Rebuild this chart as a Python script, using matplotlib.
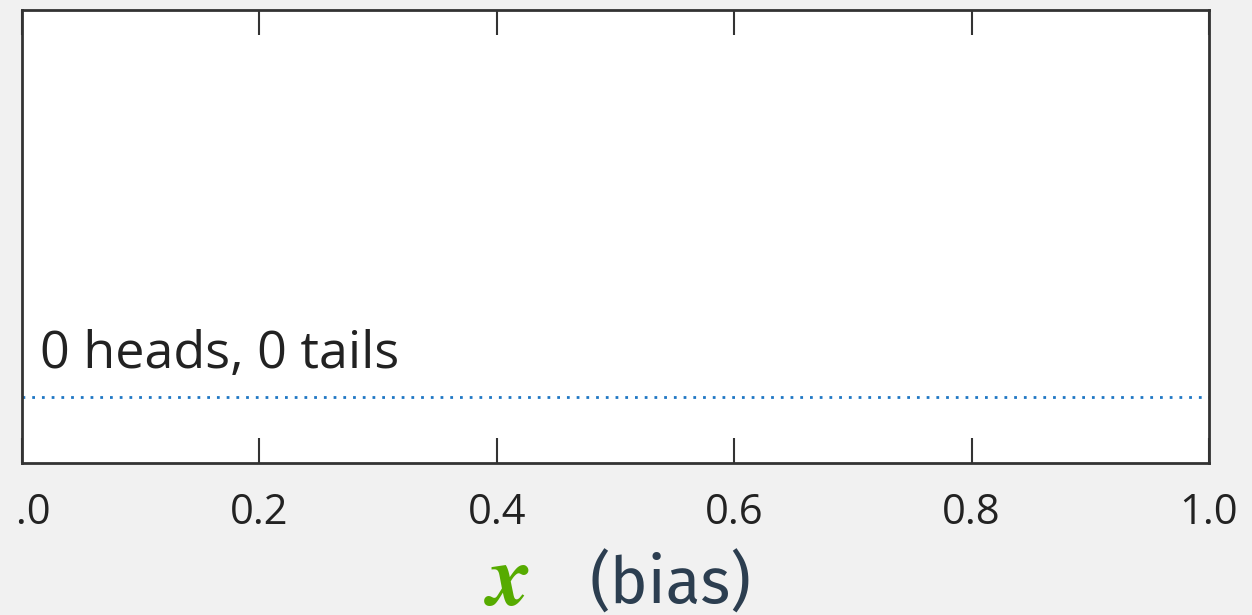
"""Prior over coin bias: uniform density before any flips."""

import matplotlib

matplotlib.use("Agg")
import matplotlib.pyplot as plt
import numpy as np
from matplotlib.transforms import Bbox

# data
bias = np.array([0.0, 1.0])
density = np.array([1.0, 1.0])
n_heads = 0
n_tails = 0
xticks = [0.0, 0.2, 0.4, 0.6, 0.8, 1.0]
xtick_labels = ["0.0", "0.2", "0.4", "0.6", "0.8", "1.0"]

BG = "#f1f1f1"
TEXT = "#222222"

plt.rcParams["font.family"] = ["Open Sans", "DejaVu Sans"]
plt.rcParams["mathtext.fontset"] = "stix"

fig = plt.figure(figsize=(12.52, 6.15), dpi=100, facecolor=BG)
ax = fig.add_axes([22 / 1252, 1 - 463 / 615, (1209 - 22) / 1252, (463 - 10) / 615])
ax.set_facecolor("white")

ax.plot(bias, density, linestyle=(0, (1, 2.5)), linewidth=2.0, color="#1f77c4")

ax.set_xlim(0, 1)
ax.set_ylim(0, 6.86)
ax.set_xticks(xticks)
ax.set_xticklabels(xtick_labels, fontsize=30, color=TEXT)
ax.set_yticks([])
ax.tick_params(axis="x", direction="in", top=True, bottom=True, length=18, width=1.5,
               color="#333333", pad=21)
for s in ax.spines.values():
    s.set_linewidth(2.0)
    s.set_color("#333333")

# the left-most label is cropped at the image edge in the original
first = ax.xaxis.get_major_ticks()[0].label1
first.set_clip_box(Bbox([[17, 0], [1252, 615]]))
first.set_clip_on(True)

ax.text(0.015, 0.21, f"{n_heads} heads, {n_tails} tails", transform=ax.transAxes,
        fontsize=37.5, color=TEXT, ha="left", va="baseline")

# x label in two colours
fig.text(507 / 1252, 1 - 605 / 615, r"$\boldsymbol{x}$", fontsize=62, color="#56ab00",
         ha="center", va="baseline")
fig.text(670 / 1252, 1 - 604 / 615, "(bias)", fontsize=46, color="#2c3e50",
         ha="center", va="baseline", family=["Fira Sans", "Open Sans", "DejaVu Sans"])

fig.savefig("out.png", dpi=100, facecolor=BG)
plt.close(fig)
